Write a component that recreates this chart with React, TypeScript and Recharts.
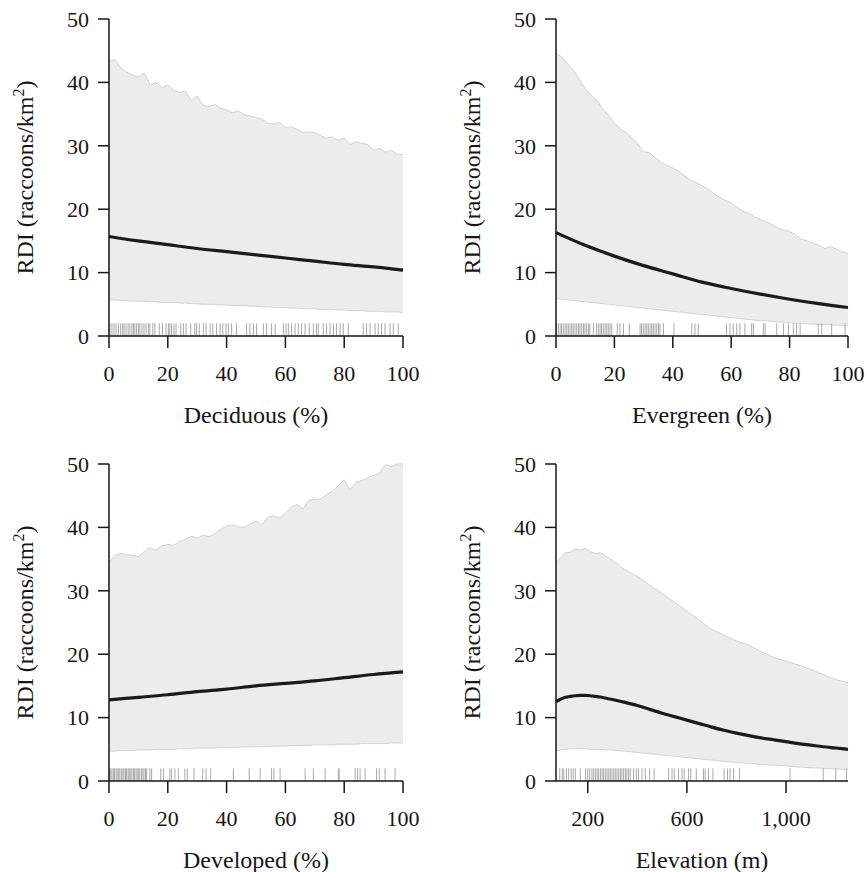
import React from "react";
import { Area, ComposedChart, Label, Line, ReferenceLine, XAxis, YAxis } from "recharts";

const FONT = '"Liberation Serif", "Times New Roman", serif';
const INK = "#161616";
const BAND = "#ececec";
const BAND_EDGE = "#d3d3d3";
const RUG = "#a9a9a9";

// shared axes
const rdiTicks = [0, 10, 20, 30, 40, 50];
const pctTicks = [0, 20, 40, 60, 80, 100];
const elevTicks = [200, 600, 1000];

// x grid of the percentage panels
const pctBandX = [
  0, 2, 4, 6, 8, 10, 12, 14, 16, 18, 20, 22, 24, 26, 28, 30, 32, 34, 36, 38, 40, 42, 44, 46, 48, 50,
  52, 54, 56, 58, 60, 62, 64, 66, 68, 70, 72, 74, 76, 78, 80, 82, 84, 86, 88, 90, 92, 94, 96, 98, 100,
];
const pctFitX = [0, 10, 20, 30, 40, 50, 60, 70, 80, 90, 100];

// Deciduous
const decHi = [
  43.3, 43.6, 42.3, 41.6, 41.2, 40.8, 41.5, 39.6, 40.0, 39.2, 39.6, 38.8, 38.4, 38.6, 37.2, 37.8, 36.4,
  36.2, 36.5, 35.9, 35.7, 35.2, 35.5, 34.9, 34.7, 34.5, 34.2, 33.6, 33.4, 33.7, 32.9, 33.0, 32.6, 32.1,
  32.2, 32.1, 31.6, 31.2, 31.4, 30.9, 31.2, 30.2, 30.6, 30.4, 30.2, 29.3, 29.6, 29.0, 29.3, 28.7, 28.6,
];
const decLo = [
  5.7, 5.7, 5.6, 5.6, 5.5, 5.5, 5.5, 5.4, 5.4, 5.3, 5.3, 5.3, 5.2, 5.2, 5.1, 5.1, 5.0, 5.0, 5.0, 4.9,
  4.9, 4.8, 4.8, 4.8, 4.7, 4.7, 4.6, 4.6, 4.5, 4.5, 4.5, 4.4, 4.4, 4.3, 4.3, 4.3, 4.2, 4.2, 4.2, 4.1,
  4.1, 4.0, 4.0, 4.0, 3.9, 3.9, 3.9, 3.8, 3.8, 3.8, 3.7,
];
const decFit = [15.7, 15.0, 14.4, 13.8, 13.3, 12.8, 12.3, 11.8, 11.3, 10.9, 10.4];
const decRug = [
  0.3, 1.0, 1.7, 2.4, 3.2, 4.0, 4.7, 5.1, 5.8, 6.5, 7.1, 7.8, 8.3, 8.8, 9.4, 10.0, 10.5, 11.2, 11.9,
  12.6, 13.4, 13.9, 14.9, 15.6, 17.1, 18.2, 19.4, 20.2, 20.7, 21.3, 22.1, 22.8, 24.4, 25.3, 26.2, 27.8,
  29.2, 29.8, 30.7, 32.1, 33.0, 34.4, 35.3, 36.6, 37.8, 38.7, 39.8, 40.6, 41.7, 43.4, 46.8, 47.9, 49.1,
  50.2, 52.5, 53.6, 55.3, 56.5, 59.3, 60.2, 61.0, 62.1, 63.3, 64.4, 65.5, 66.7, 68.1, 69.5, 70.6, 71.2,
  72.9, 74.0, 75.2, 76.3, 77.4, 78.6, 79.7, 81.4, 86.5, 87.6, 88.8, 90.5, 91.6, 92.7, 93.9, 95.6, 96.7,
  98.4,
];

// Evergreen
const evgHi = [
  44.6, 44.0, 42.9, 41.9, 40.5, 39.0, 38.0, 37.2, 35.8, 34.8, 33.6, 32.7, 32.1, 31.2, 30.3, 29.1, 28.9,
  28.1, 27.4, 26.9, 26.5, 26.0, 25.3, 24.6, 24.2, 23.7, 23.2, 22.5, 21.9, 21.4, 21.0, 20.3, 19.7, 19.4,
  18.8, 18.4, 18.0, 17.6, 17.0, 16.7, 16.5, 16.0, 15.3, 15.0, 14.6, 14.3, 13.8, 14.1, 13.7, 13.3, 13.0,
];
const evgLo = [
  5.9, 5.8, 5.7, 5.6, 5.5, 5.4, 5.3, 5.2, 5.1, 5.0, 4.9, 4.8, 4.7, 4.6, 4.5, 4.4, 4.3, 4.2, 4.1, 4.0,
  3.9, 3.8, 3.7, 3.6, 3.5, 3.4, 3.3, 3.2, 3.1, 3.0, 2.9, 2.8, 2.7, 2.6, 2.5, 2.4, 2.4, 2.3, 2.2, 2.2,
  2.1, 2.0, 2.0, 1.9, 1.9, 1.8, 1.8, 1.8, 1.7, 1.7, 1.7,
];
const evgFit = [16.3, 14.3, 12.6, 11.1, 9.8, 8.5, 7.5, 6.6, 5.8, 5.1, 4.5];
const evgRug = [
  0.2, 0.8, 1.4, 1.9, 2.5, 3.1, 3.7, 4.2, 4.8, 5.4, 5.9, 6.5, 7.1, 7.7, 8.2, 8.8, 9.4, 9.9, 10.5, 11.1,
  11.6, 12.8, 13.9, 14.5, 15.1, 15.6, 16.2, 16.8, 17.4, 17.9, 18.5, 19.1, 21.0, 21.9, 23.1, 25.1, 28.8,
  29.3, 29.9, 30.5, 31.1, 31.6, 32.2, 32.8, 33.3, 33.9, 34.5, 35.1, 35.6, 36.8, 40.4, 46.5, 47.6, 48.7,
  58.4, 59.6, 60.7, 61.9, 63.0, 64.7, 67.0, 67.6, 71.0, 71.6, 75.6, 77.9, 79.6, 81.3, 82.4, 83.6, 89.8,
  91.0, 94.4, 99.0,
];

// Developed
const devHi = [
  34.4, 35.6, 35.9, 35.7, 35.6, 35.4, 36.2, 36.8, 36.4, 37.1, 37.3, 37.2, 37.8, 38.1, 38.6, 38.3, 38.8,
  38.5, 39.0, 39.7, 40.2, 40.4, 40.1, 40.0, 40.5, 41.0, 40.4, 41.6, 41.8, 41.5, 42.2, 43.2, 43.6, 42.9,
  44.3, 44.4, 44.5, 45.2, 45.7, 46.6, 47.5, 45.9, 47.1, 47.4, 47.8, 48.2, 48.6, 49.9, 49.6, 50.0, 50.0,
];
const devLo = [
  4.7, 4.7, 4.8, 4.8, 4.8, 4.9, 4.9, 4.9, 5.0, 5.0, 5.0, 5.0, 5.1, 5.1, 5.1, 5.2, 5.2, 5.2, 5.2, 5.3,
  5.3, 5.3, 5.3, 5.4, 5.4, 5.4, 5.4, 5.5, 5.5, 5.5, 5.5, 5.6, 5.6, 5.6, 5.6, 5.7, 5.7, 5.7, 5.7, 5.8,
  5.8, 5.8, 5.8, 5.9, 5.9, 5.9, 5.9, 5.9, 6.0, 6.0, 6.0,
];
const devFit = [12.8, 13.2, 13.6, 14.1, 14.5, 15.0, 15.4, 15.8, 16.3, 16.8, 17.2];
const devRug = [
  0.1, 0.6, 1.0, 1.5, 1.9, 2.4, 2.8, 3.3, 3.7, 4.2, 4.7, 5.1, 5.6, 6.0, 6.5, 6.9, 7.4, 7.8, 8.3, 8.7,
  9.2, 9.6, 10.1, 10.5, 11.0, 11.5, 11.9, 12.4, 12.8, 13.9, 14.5, 17.6, 18.5, 20.7, 21.3, 22.4, 23.6,
  25.8, 26.6, 28.9, 31.9, 33.0, 34.6, 42.3, 47.7, 51.4, 55.3, 56.1, 58.2, 66.7, 69.5, 73.5, 78.0, 78.3,
  83.7, 84.5, 85.4, 87.1, 91.0, 91.9, 93.9, 97.3,
];

// Elevation
const elevX = [
  72, 90, 110, 130, 150, 170, 190, 210, 230, 250, 270, 300, 350, 400, 450, 500, 550, 600, 650, 700,
  750, 800, 850, 900, 950, 1000, 1050, 1100, 1150, 1200, 1250,
];
const elevHi = [
  34.4, 35.2, 36.0, 36.1, 36.6, 36.4, 36.7, 36.2, 35.9, 36.0, 35.5, 34.8, 33.3, 32.3, 30.9, 29.6, 28.2,
  26.8, 25.4, 23.9, 23.0, 22.1, 21.4, 20.4, 19.5, 18.9, 18.3, 17.6, 16.8, 16.0, 15.5,
];
const elevLo = [
  4.7, 4.9, 5.0, 5.1, 5.1, 5.1, 5.1, 5.0, 5.0, 5.0, 4.9, 4.9, 4.7, 4.5, 4.3, 4.1, 3.9, 3.7, 3.5, 3.3,
  3.1, 2.9, 2.8, 2.6, 2.5, 2.4, 2.2, 2.1, 2.0, 1.9, 1.8,
];
const elevFit = [
  12.5, 12.9, 13.2, 13.35, 13.45, 13.5, 13.5, 13.45, 13.35, 13.25, 13.1, 12.85, 12.4, 11.9, 11.3, 10.7,
  10.15, 9.6, 9.05, 8.5, 8.0, 7.55, 7.15, 6.8, 6.5, 6.2, 5.9, 5.65, 5.4, 5.2, 5.0,
];
const elevRug = [
  87, 97, 103, 114, 123, 133, 141, 150, 170, 191, 200, 208, 217, 224, 231, 238, 244, 251, 258, 264, 271,
  278, 285, 291, 298, 305, 311, 318, 325, 332, 338, 345, 352, 358, 365, 372, 385, 396, 405, 419, 432,
  450, 468, 526, 540, 549, 566, 580, 589, 607, 616, 638, 667, 674, 687, 705, 750, 764, 774, 788, 812,
  1016, 1150, 1201, 1244,
];

const RUG_TOP = 2;

function YTitle({ viewBox }: any) {
  const bx = viewBox.x + viewBox.width - 76;
  const cy = viewBox.y + viewBox.height / 2;
  return (
    <text
      x={bx}
      y={cy}
      transform={`rotate(-90, ${bx}, ${cy})`}
      textAnchor="middle"
      fontFamily={FONT}
      fontSize={24}
      fill={INK}
    >
      RDI (raccoons/km
      <tspan dy={-9} fontSize={16}>
        2
      </tspan>
      <tspan dy={9}>)</tspan>
    </text>
  );
}

function XTitle({ viewBox, text }: any) {
  return (
    <text
      x={viewBox.x + viewBox.width / 2}
      y={viewBox.y + 87}
      textAnchor="middle"
      fontFamily={FONT}
      fontSize={24}
      fill={INK}
    >
      {text}
    </text>
  );
}

type PanelProps = {
  left: number;
  top: number;
  width: number;
  title: string;
  bandX: number[];
  lo: number[];
  hi: number[];
  fitX: number[];
  fit: number[];
  rug: number[];
  domain: [number, number];
  ticks: number[];
};

function Panel(p: PanelProps) {
  const fitAt = new Map(p.fitX.map((x, i) => [x, p.fit[i]]));
  const rows = p.bandX.map((x, i) => ({ x, band: [p.lo[i], p.hi[i]], fit: fitAt.get(x) }));
  const axisStyle = { stroke: INK, strokeWidth: 1.5 };
  const tickStyle = { fill: INK, fontSize: 22, fontFamily: FONT };

  return (
    <div style={{ position: "absolute", left: p.left, top: p.top }}>
      <ComposedChart
        width={p.width}
        height={440}
        data={rows}
        margin={{ top: 19, right: 27, bottom: 14, left: 9 }}
      >
        <XAxis
          type="number"
          dataKey="x"
          domain={p.domain}
          ticks={p.ticks}
          interval={0}
          height={90}
          tickSize={12}
          tickMargin={17}
          axisLine={axisStyle}
          tickLine={axisStyle}
          tick={tickStyle}
          tickFormatter={(v) => Number(v).toLocaleString("en-US")}
        >
          <Label content={(lp: any) => <XTitle viewBox={lp.viewBox} text={p.title} />} />
        </XAxis>
        <YAxis
          type="number"
          domain={[0, 50]}
          ticks={rdiTicks}
          interval={0}
          width={100}
          tickSize={11}
          tickMargin={9}
          axisLine={axisStyle}
          tickLine={axisStyle}
          tick={tickStyle}
        >
          <Label content={(lp: any) => <YTitle viewBox={lp.viewBox} />} />
        </YAxis>
        <Area
          type="linear"
          dataKey="band"
          fill={BAND}
          fillOpacity={1}
          stroke={BAND_EDGE}
          strokeWidth={1}
          isAnimationActive={false}
          dot={false}
          activeDot={false}
        />
        {p.rug.map((v, i) => (
          <ReferenceLine
            key={i}
            segment={[
              { x: v, y: 0 },
              { x: v, y: RUG_TOP },
            ]}
            stroke={RUG}
            strokeWidth={1}
            ifOverflow="visible"
          />
        ))}
        <Line
          type="monotone"
          dataKey="fit"
          connectNulls
          stroke="#1b1b1b"
          strokeWidth={3.2}
          dot={false}
          activeDot={false}
          isAnimationActive={false}
        />
      </ComposedChart>
    </div>
  );
}

export default function App() {
  return (
    <div
      style={{
        position: "absolute",
        left: 0,
        top: 0,
        width: 867,
        height: 872,
        overflow: "hidden",
        background: "#fff",
      }}
    >
      <Panel
        left={0}
        top={0}
        width={430}
        title="Deciduous (%)"
        bandX={pctBandX}
        lo={decLo}
        hi={decHi}
        fitX={pctFitX}
        fit={decFit}
        rug={decRug}
        domain={[0, 100]}
        ticks={pctTicks}
      />
      <Panel
        left={447}
        top={0}
        width={428}
        title="Evergreen (%)"
        bandX={pctBandX}
        lo={evgLo}
        hi={evgHi}
        fitX={pctFitX}
        fit={evgFit}
        rug={evgRug}
        domain={[0, 100]}
        ticks={pctTicks}
      />
      <Panel
        left={0}
        top={445}
        width={430}
        title="Developed (%)"
        bandX={pctBandX}
        lo={devLo}
        hi={devHi}
        fitX={pctFitX}
        fit={devFit}
        rug={devRug}
        domain={[0, 100]}
        ticks={pctTicks}
      />
      <Panel
        left={447}
        top={445}
        width={428}
        title="Elevation (m)"
        bandX={elevX}
        lo={elevLo}
        hi={elevHi}
        fitX={elevX}
        fit={elevFit}
        rug={elevRug}
        domain={[72, 1250]}
        ticks={elevTicks}
      />
    </div>
  );
}
